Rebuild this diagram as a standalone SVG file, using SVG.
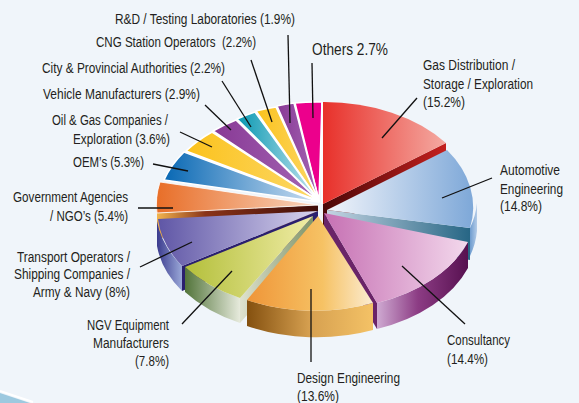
<svg xmlns="http://www.w3.org/2000/svg" width="579" height="403" viewBox="0 0 579 403">
<defs>
<style>
text{font-family:"Liberation Sans",Arial,sans-serif;font-size:14px;fill:#231f20}
.big{font-size:17px}
.lead{stroke:#111;stroke-width:1.3;fill:none}
.thin{stroke:#fff;stroke-width:1.6;stroke-linejoin:round}
</style>
<linearGradient id="gGas"><stop offset="0" stop-color="#e8302a"/><stop offset="1" stop-color="#f4aaa2"/></linearGradient>
<linearGradient id="gGasS"><stop offset="0" stop-color="#4a0808"/><stop offset="1" stop-color="#c4201e"/></linearGradient>
<linearGradient id="gAut"><stop offset="0" stop-color="#f2f5fb"/><stop offset="1" stop-color="#7ea8d8"/></linearGradient>
<linearGradient id="gAutS"><stop offset="0" stop-color="#c4d4e2"/><stop offset="1" stop-color="#276685"/></linearGradient>
<linearGradient id="gAutR"><stop offset="0" stop-color="#6e9ccf"/><stop offset="1" stop-color="#b4cce8"/></linearGradient>
<linearGradient id="gCon"><stop offset="0" stop-color="#c670b3"/><stop offset="1" stop-color="#f3d8ec"/></linearGradient>
<linearGradient id="gConR"><stop offset="0" stop-color="#cfaad2"/><stop offset="0.45" stop-color="#8c3c84"/><stop offset="1" stop-color="#571050"/></linearGradient>
<linearGradient id="gDes"><stop offset="0" stop-color="#ef9538"/><stop offset="0.6" stop-color="#f6c264"/><stop offset="1" stop-color="#fbecd2"/></linearGradient>
<linearGradient id="gDesR"><stop offset="0" stop-color="#84500f"/><stop offset="0.5" stop-color="#d6a050"/><stop offset="1" stop-color="#f4c266"/></linearGradient>
<linearGradient id="gNgv"><stop offset="0" stop-color="#b3bf3a"/><stop offset="1" stop-color="#f0eca6"/></linearGradient>
<linearGradient id="gNgvR"><stop offset="0" stop-color="#52743a"/><stop offset="1" stop-color="#e6eadc"/></linearGradient>
<linearGradient id="gNgvS"><stop offset="0" stop-color="#dfe2cf"/><stop offset="1" stop-color="#7f9468"/></linearGradient>
<linearGradient id="gTra"><stop offset="0" stop-color="#5f56a6"/><stop offset="1" stop-color="#d8d4ee"/></linearGradient>
<linearGradient id="gTraR"><stop offset="0" stop-color="#3b3b8e"/><stop offset="1" stop-color="#9aa8d8"/></linearGradient>
<linearGradient id="gGov"><stop offset="0" stop-color="#e86e28"/><stop offset="1" stop-color="#f9d6c0"/></linearGradient>
<linearGradient id="gGovS"><stop offset="0" stop-color="#f2b44e"/><stop offset="0.3" stop-color="#8a3418"/><stop offset="1" stop-color="#3e0c08"/></linearGradient>
<linearGradient id="gOem"><stop offset="0" stop-color="#0868b4"/><stop offset="1" stop-color="#cfe0f2"/></linearGradient>
<linearGradient id="gYel"><stop offset="0" stop-color="#fbc21c"/><stop offset="1" stop-color="#fcd868"/></linearGradient>
<linearGradient id="gPur"><stop offset="0" stop-color="#883995"/><stop offset="1" stop-color="#a466b4"/></linearGradient>
<linearGradient id="gCity"><stop offset="0" stop-color="#0898b2"/><stop offset="1" stop-color="#c8e6f0"/></linearGradient>
</defs>
<rect width="579" height="403" fill="#f0f5fa"/>
<path d="M0,393 L30,403 L0,403 Z" fill="#9dc9df"/>
<path d="M0,391 L33,402" stroke="#fff" stroke-width="2"/>

<g id="slice-others"><path class="thin" d="M319,201 L295,103 A152,102 0 0 1 322,102 Z" fill="#ec008c"/>
<text class="big" x="312" y="55" textLength="76" lengthAdjust="spacingAndGlyphs">Others 2.7%</text></g>
<g id="slice-rnd"><path class="thin" d="M319,201 L277,106 A152,102 0 0 1 294,103 Z" fill="url(#gPur)"/>
<text x="115" y="24" textLength="180" lengthAdjust="spacingAndGlyphs">R&amp;D / Testing Laboratories (1.9%)</text></g>
<g id="slice-cng"><path class="thin" d="M319,201 L256,111 A152,102 0 0 1 276,107 Z" fill="url(#gYel)"/>
<text x="96" y="46.5" textLength="160" lengthAdjust="spacingAndGlyphs" xml:space="preserve">CNG Station Operators  (2.2%)</text></g>
<g id="slice-city"><path class="thin" d="M319,201 L237,119 A152,102 0 0 1 255,112 Z" fill="url(#gCity)"/>
<text x="42" y="73" textLength="183" lengthAdjust="spacingAndGlyphs">City &amp; Provincial Authorities (2.2%)</text></g>
<g id="slice-vehicle"><path class="thin" d="M319,201 L213,131 A152,102 0 0 1 236,120 Z" fill="url(#gPur)"/>
<text x="43" y="98.5" textLength="157" lengthAdjust="spacingAndGlyphs">Vehicle Manufacturers (2.9%)</text></g>
<g id="slice-oilgas"><path class="thin" d="M319,201 L186,151 A152,102 0 0 1 212,132 Z" fill="url(#gYel)"/>
<text x="52" y="125" textLength="116" lengthAdjust="spacingAndGlyphs">Oil &amp; Gas Companies /</text>
<text x="73" y="144" textLength="97" lengthAdjust="spacingAndGlyphs">Exploration (3.6%)</text></g>
<g id="slice-oem"><path class="thin" d="M319,202 L164,180 A152,102 0 0 1 184,152 Z" fill="url(#gOem)"/>
<text x="73" y="167" textLength="71" lengthAdjust="spacingAndGlyphs">OEM’s (5.3%)</text></g>

<g id="slice-gas">
<path d="M323,204 L446,143 L446,168 L323,229 Z" fill="url(#gGasS)"/>
<path d="M323,204 L323,102 A152,102 0 0 1 446,143 Z" fill="url(#gGas)"/>
<path d="M322,103 L322,204" stroke="#fff" stroke-width="1.6"/>
<text x="423" y="70" textLength="92" lengthAdjust="spacingAndGlyphs">Gas Distribution /</text>
<text x="423" y="88.5" textLength="110" lengthAdjust="spacingAndGlyphs">Storage / Exploration</text>
<text x="423" y="107" textLength="42" lengthAdjust="spacingAndGlyphs">(15.2%)</text></g>

<g id="slice-gov">
<path d="M318,205 L157,213 L157,238 L318,230 Z" fill="url(#gGovS)"/>
<path d="M318,205 L157,213 A152,102 0 0 1 160,182 Z" fill="url(#gGov)" stroke="#fff" stroke-width="0.8"/>
<text x="13" y="201.5" textLength="115" lengthAdjust="spacingAndGlyphs">Government Agencies</text>
<text x="50" y="220.5" textLength="78" lengthAdjust="spacingAndGlyphs">/ NGO’s (5.4%)</text></g>

<g id="slice-auto">
<path d="M477,203 A152,102 0 0 1 470,228 L470,256 A152,102 0 0 0 477,231 Z" fill="url(#gAutR)"/>
<path d="M327,210 L470,228 L470,260 L327,236 Z" fill="url(#gAutS)"/>
<path d="M327,210 L447,150 A152,102 0 0 1 470,228 Z" fill="url(#gAut)"/>
<text x="500" y="175" textLength="60" lengthAdjust="spacingAndGlyphs">Automotive</text>
<text x="500" y="193.5" textLength="63" lengthAdjust="spacingAndGlyphs">Engineering</text>
<text x="500" y="211" textLength="42" lengthAdjust="spacingAndGlyphs">(14.8%)</text></g>

<g id="slice-transport">
<path d="M318,211 L182,266 L182,291 L318,236 Z" fill="#2a1f6e"/>
<path d="M182,266 A152,102 0 0 1 157,221 L157,246 A152,102 0 0 0 182,291 Z" fill="url(#gTraR)"/>
<path d="M318,211 L182,266 A152,102 0 0 1 158,219 Z" fill="url(#gTra)"/>
<text x="17" y="261.5" textLength="113" lengthAdjust="spacingAndGlyphs">Transport Operators /</text>
<text x="14" y="279" textLength="116" lengthAdjust="spacingAndGlyphs">Shipping Companies /</text>
<text x="33" y="297" textLength="97" lengthAdjust="spacingAndGlyphs">Army &amp; Navy (8%)</text></g>

<g id="slice-consult">
<path d="M324,213 L377,303 L377,329 L324,239 Z" fill="#6a2468"/>
<path d="M468,242 A152,102 0 0 1 377,303 L377,329 A152,102 0 0 0 468,268 Z" fill="url(#gConR)"/>
<path d="M324,213 L468,242 A152,102 0 0 1 377,303 Z" fill="url(#gCon)"/>
<text x="447" y="344.5" textLength="63" lengthAdjust="spacingAndGlyphs">Consultancy</text>
<text x="447" y="364" textLength="41" lengthAdjust="spacingAndGlyphs">(14.4%)</text></g>

<g id="slice-ngv">
<path d="M313,216 L240,298 L240,323 L313,241 Z" fill="url(#gNgvS)"/>
<path d="M240,298 A152,102 0 0 1 185,267 L185,292 A152,102 0 0 0 240,323 Z" fill="url(#gNgvR)"/>
<path d="M313,216 L240,298 A152,102 0 0 1 185,267 Z" fill="url(#gNgv)"/>
<text x="87" y="329.5" textLength="82" lengthAdjust="spacingAndGlyphs">NGV Equipment</text>
<text x="93" y="348" textLength="76" lengthAdjust="spacingAndGlyphs">Manufacturers</text>
<text x="135" y="365.5" textLength="34" lengthAdjust="spacingAndGlyphs">(7.8%)</text></g>

<g id="slice-design">
<path d="M373,303 A152,102 0 0 1 247,300 L247,326 A152,102 0 0 0 373,330 Z" fill="url(#gDesR)"/>
<path d="M318,216 L373,303 A152,102 0 0 1 247,300 Z" fill="url(#gDes)"/>
<text x="297" y="382.5" textLength="103" lengthAdjust="spacingAndGlyphs">Design Engineering</text>
<text x="297" y="401" textLength="42" lengthAdjust="spacingAndGlyphs">(13.6%)</text></g>

<g id="connectors">
<path class="lead" d="M288,35 L290,123"/>
<path class="lead" d="M251,60 L272,122"/>
<path class="lead" d="M222,81 L251,127"/>
<path class="lead" d="M205,105 L231,130"/>
<path class="lead" d="M180,132 L212,147"/>
<path class="lead" d="M153,164 L188,171"/>
<path class="lead" d="M312,63 L313,118"/>
<path class="lead" d="M417,98 L382,138"/>
<path class="lead" d="M492,178 L442,198"/>
<path class="lead" d="M402,266 L465,324"/>
<path class="lead" d="M311,289 L311,362"/>
<path class="lead" d="M232,271 L182,324"/>
<path class="lead" d="M192,242 L140,267"/>
<path class="lead" d="M138,208 L173,208"/>
</g>
</svg>
